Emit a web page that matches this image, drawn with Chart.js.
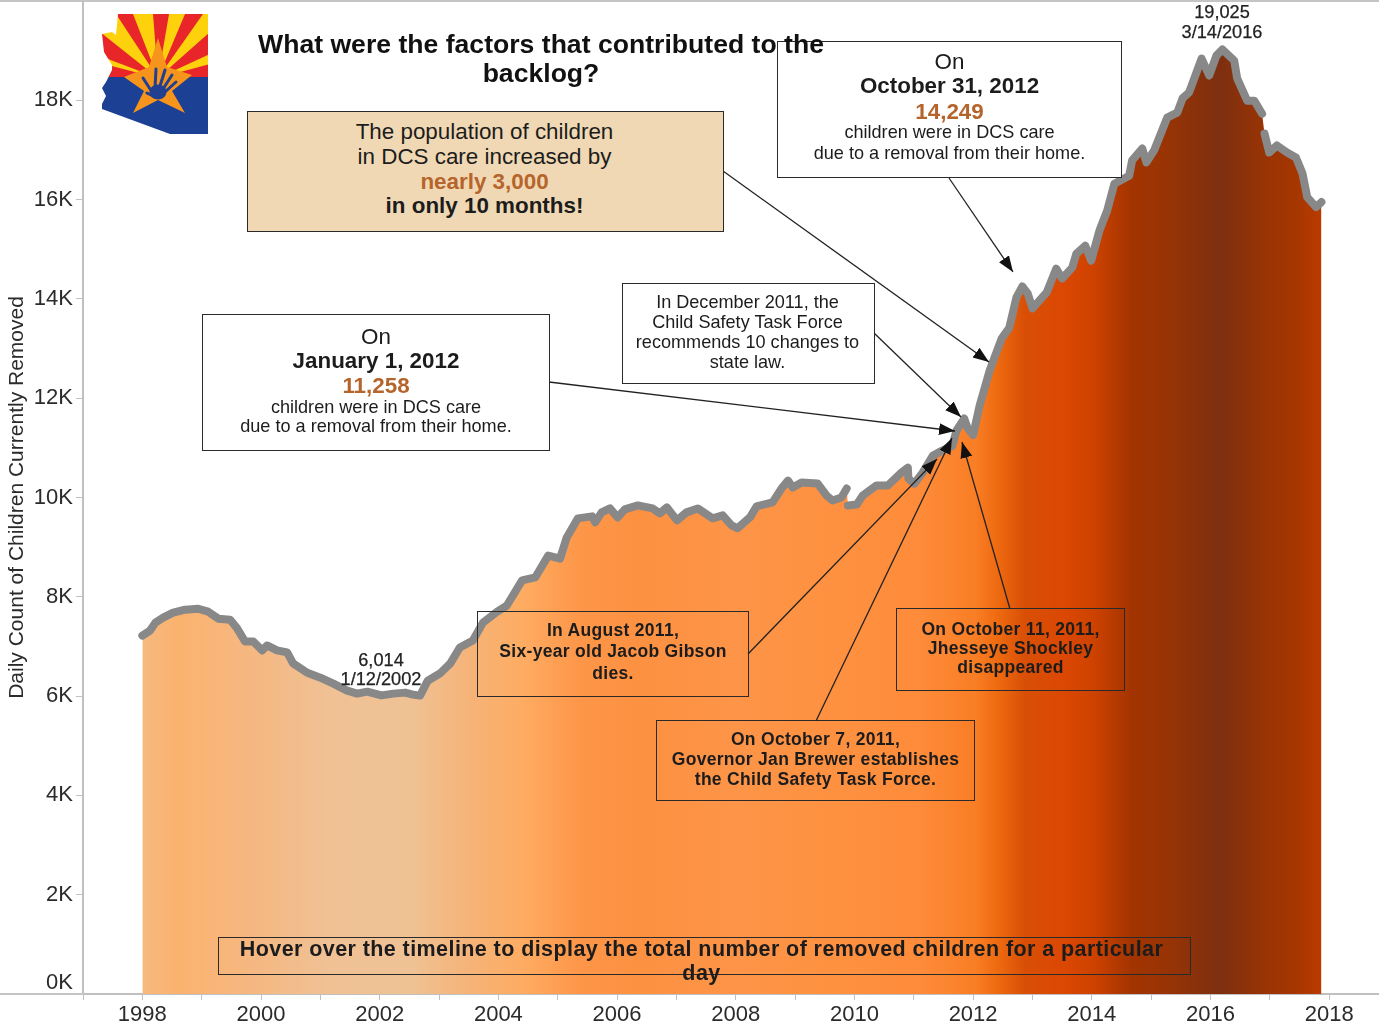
<!DOCTYPE html>
<html>
<head>
<meta charset="utf-8">
<title>Daily Count of Children Currently Removed</title>
<script src="https://cdn.jsdelivr.net/npm/chart.js@4"></script>
<style>
    html, body { margin: 0; padding: 0; background: #fff; }
    #wrap { position: relative; width: 1379px; height: 1028px; overflow: hidden; background: #fff; filter: blur(0.4px); font-family: "Liberation Sans", Arial, sans-serif; color: #1c1c1c; }
    canvas { position: absolute; left: 0; top: 0; }
    .rule { position: absolute; background: #c4c4c4; }
    svg.overlay { position: absolute; left: 0; top: 0; }
    .box { position: absolute; box-sizing: border-box; border: 1.5px solid #2a2a2a; text-align: center; }
    .box div, .free div { position: absolute; left: 0; right: 0; white-space: nowrap; text-align: center; }
    .free { position: absolute; text-align: center; }
    .big { font-size: 22.4px; line-height: 24px; }
    .small { font-size: 18.1px; line-height: 20px; }
    .b { font-weight: bold; }
    .rust { color: #b5652c; font-weight: bold; }
    .boldnote { font-size: 17.5px; line-height: 20px; font-weight: bold; letter-spacing: 0.3px; }
    .stamp { font-size: 18.2px; color: #222; -webkit-text-stroke: 0.25px #222; }
</style>
</head>
<body>
<div id="wrap">
    <canvas id="grafiek" width="1379" height="1028"></canvas>
    <div class="rule" style="left:0;top:0;width:1379px;height:2px"></div>
    <div class="rule" style="left:0;top:993px;width:84px;height:2px"></div>

    <!-- annotation arrows -->
    <svg class="overlay" width="1379" height="1028">
        <defs>
            <marker id="kop" markerUnits="userSpaceOnUse" markerWidth="18" markerHeight="14" refX="16" refY="6" orient="auto">
                <path d="M0,0 L16,6 L0,12 Z" fill="#111"></path>
            </marker>
            <clipPath id="staat">
                <path d="M118,14 L208,14 L208,134 L170,134 L102,109 L102,104 L106,96 L102,88 L106,82 L112,70 L112,65 L104,52 L102,34 L112,32 L116,35 Z"></path>
            </clipPath>
            <filter id="zacht"><feGaussianBlur stdDeviation="0.6"></feGaussianBlur></filter>
        </defs>
        <g stroke="#222" stroke-width="1.3" fill="none">
            <line x1="723" y1="171" x2="989" y2="362" marker-end="url(#kop)"></line>
            <line x1="949" y1="178" x2="1013" y2="272" marker-end="url(#kop)"></line>
            <line x1="874" y1="333" x2="961" y2="417" marker-end="url(#kop)"></line>
            <line x1="549" y1="382" x2="955" y2="431" marker-end="url(#kop)"></line>
            <line x1="748" y1="654" x2="937" y2="459" marker-end="url(#kop)"></line>
            <line x1="816" y1="721" x2="952" y2="438" marker-end="url(#kop)"></line>
            <line x1="1010" y1="609" x2="962" y2="442" marker-end="url(#kop)"></line>
        </g>
        <!-- state logo -->
        <g clip-path="url(#staat)" filter="url(#zacht)">
            <rect x="100" y="12" width="110" height="66" fill="#fdd20e"></rect>
            <g fill="#e8262a">
                <polygon points="158,78 116,14 133,14"></polygon>
                <polygon points="158,78 153,14 169,14"></polygon>
                <polygon points="158,78 185,14 203,14"></polygon>
                <polygon points="158,78 210,32 210,54"></polygon>
                <polygon points="158,78 100,32 100,56"></polygon>
                <polygon points="158,78 104,64 104,78"></polygon>
                <polygon points="158,78 210,64 210,78"></polygon>
            </g>
            <rect x="100" y="77" width="110" height="60" fill="#1c3f94"></rect>
            <polygon points="158,38 167,67 192,75 172,91 185,113 158,100 133,113 144,91 124,77 149,67" fill="#f7941d"></polygon>
            <g stroke="#23408f" stroke-width="3" stroke-linecap="round" fill="#23408f">
                <line x1="155" y1="88" x2="156" y2="69"></line>
                <line x1="160" y1="86" x2="165" y2="70"></line>
                <line x1="163" y1="89" x2="172" y2="75"></line>
                <line x1="165" y1="92" x2="176" y2="82"></line>
                <line x1="152" y1="92" x2="143" y2="78"></line>
                <ellipse cx="158" cy="92" rx="7" ry="6"></ellipse>
                <line x1="155" y1="97" x2="147" y2="93"></line>
            </g>
        </g>
    </svg>

    <div class="box big" style="left:247px;top:111px;width:477px;height:121px;background:#f0d8b4">
        <div style="top:8px;right:2px">The population of children</div>
        <div style="top:33px;right:2px">in DCS care increased by</div>
        <div class="rust" style="top:58px;right:2px">nearly 3,000</div>
        <div class="b" style="top:82px;right:2px">in only 10 months!</div>
    </div>

    <div class="box" style="left:777px;top:41px;width:345px;height:137px;background:#fff">
        <div class="big" style="top:8px">On</div>
        <div class="big b" style="top:32px">October 31, 2012</div>
        <div class="big rust" style="top:58px">14,249</div>
        <div class="small" style="top:80px">children were in DCS care</div>
        <div class="small" style="top:101px">due to a removal from their home.</div>
    </div>

    <div class="free b" style="left:200px;top:29px;width:682px;font-size:26.6px;color:#111">
        <div style="top:0;line-height:30px">What were the factors that contributed to the</div>
        <div style="top:29px;line-height:30px">backlog?</div>
    </div>

    <div class="box" style="left:202px;top:314px;width:348px;height:137px;background:#fff">
        <div class="big" style="top:10px">On</div>
        <div class="big b" style="top:34px">January 1, 2012</div>
        <div class="big rust" style="top:59px">11,258</div>
        <div class="small" style="top:82px">children were in DCS care</div>
        <div class="small" style="top:101px">due to a removal from their home.</div>
    </div>

    <div class="box small" style="left:622px;top:283px;width:253px;height:101px;background:#fff">
        <div style="top:8px;right:2px">In December 2011, the</div>
        <div style="top:28px;right:2px">Child Safety Task Force</div>
        <div style="top:48px;right:2px">recommends 10 changes to</div>
        <div style="top:68px;right:2px">state law.</div>
    </div>

    <div class="box boldnote" style="left:477px;top:611px;width:272px;height:86px">
        <div style="top:8px">In August 2011,</div>
        <div style="top:29px">Six-year old Jacob Gibson</div>
        <div style="top:51px">dies.</div>
    </div>

    <div class="box boldnote" style="left:656px;top:720px;width:319px;height:81px">
        <div style="top:8px">On October 7, 2011,</div>
        <div style="top:28px">Governor Jan Brewer establishes</div>
        <div style="top:48px">the Child Safety Task Force.</div>
    </div>

    <div class="box boldnote" style="left:896px;top:608px;width:229px;height:83px">
        <div style="top:10px">On October 11, 2011,</div>
        <div style="top:29px">Jhesseye Shockley</div>
        <div style="top:48px">disappeared</div>
    </div>

    <div class="box b" style="left:218px;top:937px;width:973px;height:38px;font-size:21.5px;letter-spacing:0.42px">
        <div style="top:-1px;right:6px;line-height:24px">Hover over the timeline to display the total number of removed children for a particular</div>
        <div style="top:23px;right:6px;line-height:24px">day</div>
    </div>

    <div class="free stamp" style="left:300px;top:650px;width:162px">
        <div style="top:0;line-height:20px">6,014</div>
        <div style="top:19px;line-height:20px">1/12/2002</div>
    </div>
    <div class="free stamp" style="left:1141px;top:2px;width:162px">
        <div style="top:0;line-height:20px">19,025</div>
        <div style="top:20px;line-height:20px">3/14/2016</div>
    </div>
</div>

<script>
// ===============================
// Data
// ===============================
const jaren = [
    1998.00, 1998.13, 1998.22, 1998.35, 1998.52, 1998.72, 1998.94, 1999.11, 1999.28, 1999.48,
    1999.60, 1999.73, 1999.87, 2000.02, 2000.10, 2000.27, 2000.44, 2000.54, 2000.78, 2001.00,
    2001.22, 2001.45, 2001.62, 2001.79, 2002.03, 2002.23, 2002.43, 2002.56, 2002.68, 2002.81,
    2003.02, 2003.19, 2003.35, 2003.57, 2003.74, 2003.98, 2004.14, 2004.40, 2004.62, 2004.84,
    2005.04, 2005.15, 2005.34, 2005.58, 2005.63, 2005.74, 2005.88, 2006.01, 2006.13, 2006.35,
    2006.60, 2006.72, 2006.84, 2007.01, 2007.17, 2007.36, 2007.61, 2007.78, 2007.93, 2008.03,
    2008.24, 2008.35, 2008.62, 2008.77, 2008.88, 2008.96, 2009.11, 2009.38, 2009.53, 2009.63,
    2009.78, 2009.87, 2009.89, 2010.04, 2010.14, 2010.37, 2010.56, 2010.79, 2010.90, 2010.91,
    2011.01, 2011.15, 2011.32, 2011.47, 2011.65, 2011.72, 2011.85, 2011.91, 2012.00, 2012.11,
    2012.28, 2012.48, 2012.61, 2012.73, 2012.83, 2012.92, 2013.00, 2013.24, 2013.40, 2013.50,
    2013.67, 2013.74, 2013.89, 2013.99, 2014.13, 2014.26, 2014.38, 2014.63, 2014.68, 2014.85,
    2014.92, 2015.05, 2015.27, 2015.44, 2015.53, 2015.64, 2015.85, 2015.98, 2016.10, 2016.20,
    2016.40, 2016.45, 2016.62, 2016.74, 2016.87, 2016.91, 2016.99, 2017.12, 2017.29, 2017.44,
    2017.55, 2017.63, 2017.78, 2017.87
];

const aantallen = [
    7220, 7320, 7480, 7580, 7680, 7740, 7760, 7700, 7560, 7540,
    7360, 7100, 7100, 6920, 7020, 6920, 6880, 6660, 6470, 6370,
    6250, 6110, 6050, 6090, 6014, 6050, 6070, 6030, 6010, 6310,
    6460, 6660, 6980, 7120, 7480, 7700, 7820, 8330, 8390, 8830,
    8770, 9190, 9580, 9620, 9500, 9700, 9780, 9600, 9760, 9840,
    9780, 9680, 9800, 9540, 9700, 9780, 9580, 9640, 9440, 9380,
    9600, 9820, 9900, 10180, 10340, 10200, 10300, 10280, 10040, 9940,
    10000, 10180, 9840, 9860, 10040, 10240, 10240, 10500, 10600, 10380,
    10280, 10500, 10840, 10940, 11040, 11350, 11590, 11390, 11258, 11850,
    12560, 13200, 13420, 14030, 14249, 14110, 13810, 14130, 14610, 14410,
    14630, 14910, 15070, 14770, 15380, 15780, 16320, 16480, 16790, 17030,
    16750, 16990, 17650, 17750, 18040, 18160, 18840, 18500, 18900, 19025,
    18800, 18440, 17990, 17990, 17730, 17330, 16950, 17090, 16950, 16850,
    16530, 16050, 15850, 15950
];

// punten waarna de grijze lijn even onderbroken is
const lijnBreuken = [2009.87, 2016.87];

// kleurbanden van het vlak
const bandJaren = [
    1998.00, 1998.6, 1999.9, 2001.18, 2002.48, 2003.44, 2004.41, 2005.37, 2006.33, 2008.02, 2009.84,
    2011.12, 2012.03, 2012.42, 2012.87, 2013.51, 2014.03, 2014.67, 2015.18, 2016.15, 2016.93, 2017.43, 2017.87
];
const bandKleuren = [
    "#f6b97f", "#fbb26f", "#f5b882", "#efc195", "#efc295", "#f5b47a", "#feac62", "#fd9648", "#fd9142", "#fd9447", "#fe9140",
    "#fe8b39", "#f97e25", "#ee6a10", "#d94f06", "#db4803", "#ce4200", "#a23400", "#9a3404", "#7d2f10", "#9a3404", "#a53600", "#ba3b00"
];

const jaarTicks = [];
for (let j = 1997; j <= 2018; j++) jaarTicks.push(j);
const aantalTicks = [0, 2000, 4000, 6000, 8000, 10000, 12000, 14000, 16000, 18000];

// ===============================
// Helpers
// ===============================
function maakVlakKleur(context) {
    const chart = context.chart;
    if (!chart.chartArea) return "#fd9142";
    const x = chart.scales.x;
    const van = x.getPixelForValue(bandJaren[0]);
    const tot = x.getPixelForValue(bandJaren[bandJaren.length - 1]);
    const g = chart.ctx.createLinearGradient(van, 0, tot, 0);
    bandJaren.forEach((jaar, i) => {
        g.addColorStop((x.getPixelForValue(jaar) - van) / (tot - van), bandKleuren[i]);
    });
    return g;
}

// lijn met een gat na elk breekpunt
function maakLijnPunten() {
    const punten = [];
    jaren.forEach((jaar, i) => {
        punten.push({ x: jaar, y: aantallen[i] });
        if (lijnBreuken.includes(jaar)) punten.push({ x: jaar + 0.001, y: null });
    });
    return punten;
}

// ===============================
// Grafiek
// ===============================
const lijnGrijs = "#888888";
const asKleur = "#c0c0c0";
const tekstKleur = "#2b2b2b";

new Chart(document.getElementById("grafiek").getContext("2d"), {
    type: "line",
    data: {
        datasets: [{
            label: "Daily Count of Children Currently Removed",
            data: maakLijnPunten(),
            borderColor: lijnGrijs,
            borderWidth: 8,
            borderCapStyle: "round",
            borderJoinStyle: "round",
            fill: false,
            spanGaps: false,
            pointRadius: 0,
            tension: 0,
            clip: false
        }, {
            label: "Vlak",
            data: jaren.map((jaar, i) => ({ x: jaar, y: aantallen[i] })),
            borderWidth: 0,
            borderColor: "transparent",
            backgroundColor: maakVlakKleur,
            fill: "origin",
            pointRadius: 0,
            tension: 0
        }]
    },
    options: {
        responsive: false,
        animation: false,
        events: [],
        layout: { padding: { top: 1, right: 0, left: 0, bottom: 0 } },
        plugins: {
            legend: { display: false },
            title: { display: false },
            tooltip: { enabled: false }
        },
        scales: {
            x: {
                type: "linear",
                min: 1997,
                max: 2018.84,
                afterBuildTicks: scale => { scale.ticks = jaarTicks.map(v => ({ value: v })); },
                afterFit: scale => { scale.height = 34; scale.paddingLeft = 0; scale.paddingRight = 0; },
                grid: { drawOnChartArea: false, drawTicks: true, tickLength: 6, color: asKleur },
                border: { color: asKleur, width: 2 },
                ticks: {
                    autoSkip: false,
                    maxRotation: 0,
                    padding: 2,
                    color: tekstKleur,
                    font: { family: "Liberation Sans", size: 22 },
                    callback: v => (v % 2 === 0 ? String(v) : "")
                }
            },
            y: {
                min: 0,
                max: 20000,
                afterBuildTicks: scale => { scale.ticks = aantalTicks.map(v => ({ value: v })); },
                afterFit: scale => { scale.width = 83; scale.paddingTop = 0; scale.paddingBottom = 0; },
                grid: { drawOnChartArea: false, drawTicks: true, tickLength: 7, color: asKleur },
                border: { color: asKleur, width: 2 },
                title: {
                    display: true,
                    text: "Daily Count of Children Currently Removed",
                    color: tekstKleur,
                    font: { family: "Liberation Sans", size: 21 },
                    padding: 5
                },
                ticks: {
                    padding: 3,
                    color: tekstKleur,
                    font: { family: "Liberation Sans", size: 22, lineHeight: 1 },
                    // 0K staat in het origineel iets boven de as
                    callback: v => (v === 0 ? ["0K", ""] : (v / 1000) + "K")
                }
            }
        }
    }
});
</script>
</body>
</html>
